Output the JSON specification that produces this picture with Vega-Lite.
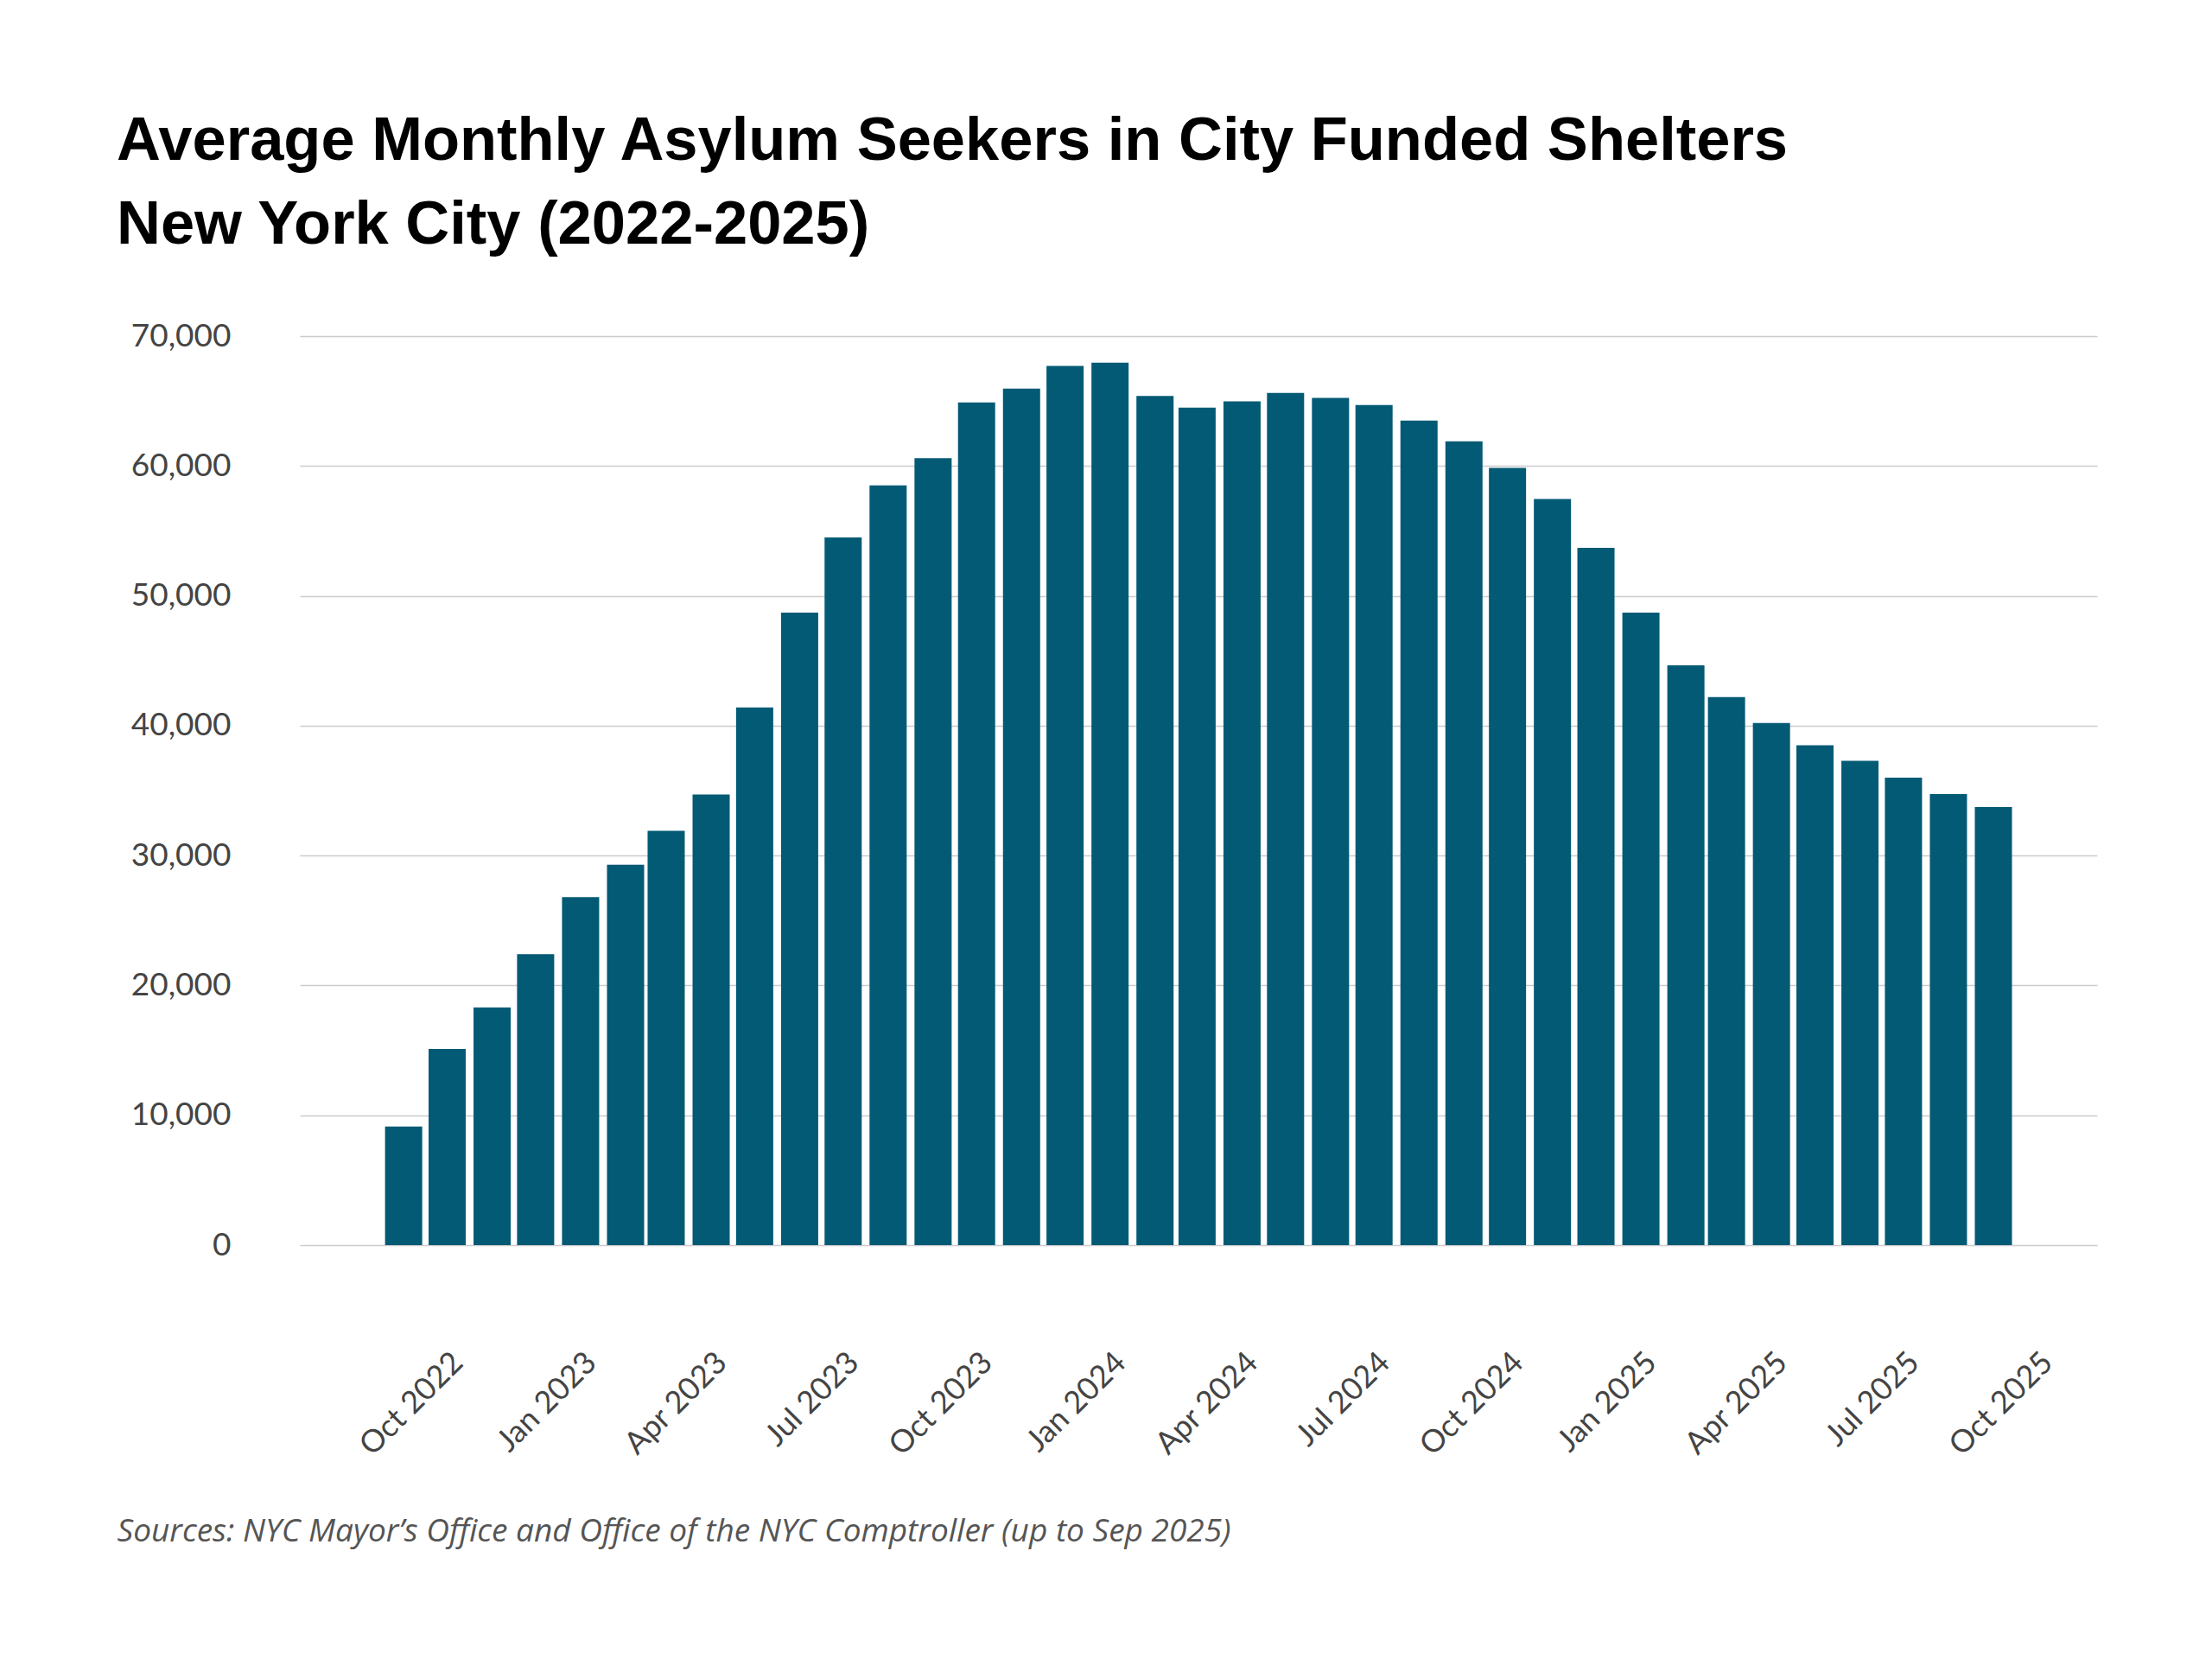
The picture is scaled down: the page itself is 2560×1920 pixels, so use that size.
{
  "$schema": "https://vega.github.io/schema/vega-lite/v6.json",
  "width": 2080,
  "height": 1052,
  "autosize": {"type": "none"},
  "padding": {"left": 347, "top": 389, "right": 133, "bottom": 479},
  "background": "white",
  "title": {
    "text": ["Average Monthly Asylum Seekers in City Funded Shelters", "New York City (2022-2025)"],
    "anchor": "start",
    "frame": "group",
    "dx": -212,
    "dy": 6,
    "offset": 80,
    "font": "Liberation Sans",
    "fontSize": 70.5,
    "fontWeight": "bold",
    "color": "#000000",
    "lineHeight": 97
  },
  "data": {
    "values": [
      {"month": "2022-09-01", "seekers": 9130},
      {"month": "2022-10-01", "seekers": 15100},
      {"month": "2022-11-01", "seekers": 18300},
      {"month": "2022-12-01", "seekers": 22400},
      {"month": "2023-01-01", "seekers": 26800},
      {"month": "2023-02-01", "seekers": 29300},
      {"month": "2023-03-01", "seekers": 31900},
      {"month": "2023-04-01", "seekers": 34700},
      {"month": "2023-05-01", "seekers": 41400},
      {"month": "2023-06-01", "seekers": 48700},
      {"month": "2023-07-01", "seekers": 54500},
      {"month": "2023-08-01", "seekers": 58500},
      {"month": "2023-09-01", "seekers": 60600},
      {"month": "2023-10-01", "seekers": 64900},
      {"month": "2023-11-01", "seekers": 65950},
      {"month": "2023-12-01", "seekers": 67700},
      {"month": "2024-01-01", "seekers": 67950},
      {"month": "2024-02-01", "seekers": 65400},
      {"month": "2024-03-01", "seekers": 64500},
      {"month": "2024-04-01", "seekers": 64980},
      {"month": "2024-05-01", "seekers": 65630},
      {"month": "2024-06-01", "seekers": 65250},
      {"month": "2024-07-01", "seekers": 64700},
      {"month": "2024-08-01", "seekers": 63500},
      {"month": "2024-09-01", "seekers": 61900},
      {"month": "2024-10-01", "seekers": 59850},
      {"month": "2024-11-01", "seekers": 57450},
      {"month": "2024-12-01", "seekers": 53700},
      {"month": "2025-01-01", "seekers": 48700},
      {"month": "2025-02-01", "seekers": 44650},
      {"month": "2025-03-01", "seekers": 42200},
      {"month": "2025-04-01", "seekers": 40200},
      {"month": "2025-05-01", "seekers": 38500},
      {"month": "2025-06-01", "seekers": 37300},
      {"month": "2025-07-01", "seekers": 36000},
      {"month": "2025-08-01", "seekers": 34730},
      {"month": "2025-09-01", "seekers": 33730}
    ],
    "format": {"parse": {"month": "utc:'%Y-%m-%d'"}}
  },
  "mark": {"type": "bar", "width": 43, "color": "#035a75"},
  "encoding": {
    "x": {
      "field": "month",
      "type": "temporal",
      "scale": {
        "type": "utc",
        "domain": [
          {"year": 2022, "month": 6, "date": 24, "hours": 10, "utc": true},
          {"year": 2025, "month": 11, "date": 8, "hours": 12, "utc": true}
        ]
      },
      "axis": {
        "values": [
          {"year": 2022, "month": 10, "date": 1, "utc": true},
          {"year": 2023, "month": 1, "date": 1, "utc": true},
          {"year": 2023, "month": 4, "date": 1, "utc": true},
          {"year": 2023, "month": 7, "date": 1, "utc": true},
          {"year": 2023, "month": 10, "date": 1, "utc": true},
          {"year": 2024, "month": 1, "date": 1, "utc": true},
          {"year": 2024, "month": 4, "date": 1, "utc": true},
          {"year": 2024, "month": 7, "date": 1, "utc": true},
          {"year": 2024, "month": 10, "date": 1, "utc": true},
          {"year": 2025, "month": 1, "date": 1, "utc": true},
          {"year": 2025, "month": 4, "date": 1, "utc": true},
          {"year": 2025, "month": 7, "date": 1, "utc": true},
          {"year": 2025, "month": 10, "date": 1, "utc": true}
        ],
        "format": "%b %Y",
        "labelAngle": -45,
        "labelAlign": "right",
        "labelBaseline": "top",
        "labelFont": "Lato",
        "labelFontSize": 36,
        "labelColor": "#444444",
        "labelPadding": 118,
        "labelOverlap": false,
        "labelFlush": false,
        "ticks": false,
        "tickSize": 0,
        "domain": false,
        "grid": false,
        "title": "Sources: NYC Mayor’s Office and Office of the NYC Comptroller (up to Sep 2025)",
        "titleFont": "Open Sans",
        "titleFontStyle": "italic",
        "titleFontWeight": "normal",
        "titleFontSize": 37,
        "titleColor": "#555555",
        "titleX": -212,
        "titleY": 342,
        "titleAlign": "left",
        "titleBaseline": "alphabetic",
        "titleAngle": 0
      }
    },
    "y": {
      "field": "seekers",
      "type": "quantitative",
      "scale": {"domain": [0, 70000], "nice": false},
      "axis": {
        "values": [0, 10000, 20000, 30000, 40000, 50000, 60000, 70000],
        "format": ",d",
        "labelFont": "Lato",
        "labelFontSize": 37,
        "labelColor": "#444444",
        "labelPadding": 80,
        "labelFlush": false,
        "ticks": false,
        "tickSize": 0,
        "domain": false,
        "grid": true,
        "gridColor": "#cccccc",
        "gridWidth": 1.5,
        "title": null
      }
    }
  },
  "config": {"view": {"stroke": null}}
}
